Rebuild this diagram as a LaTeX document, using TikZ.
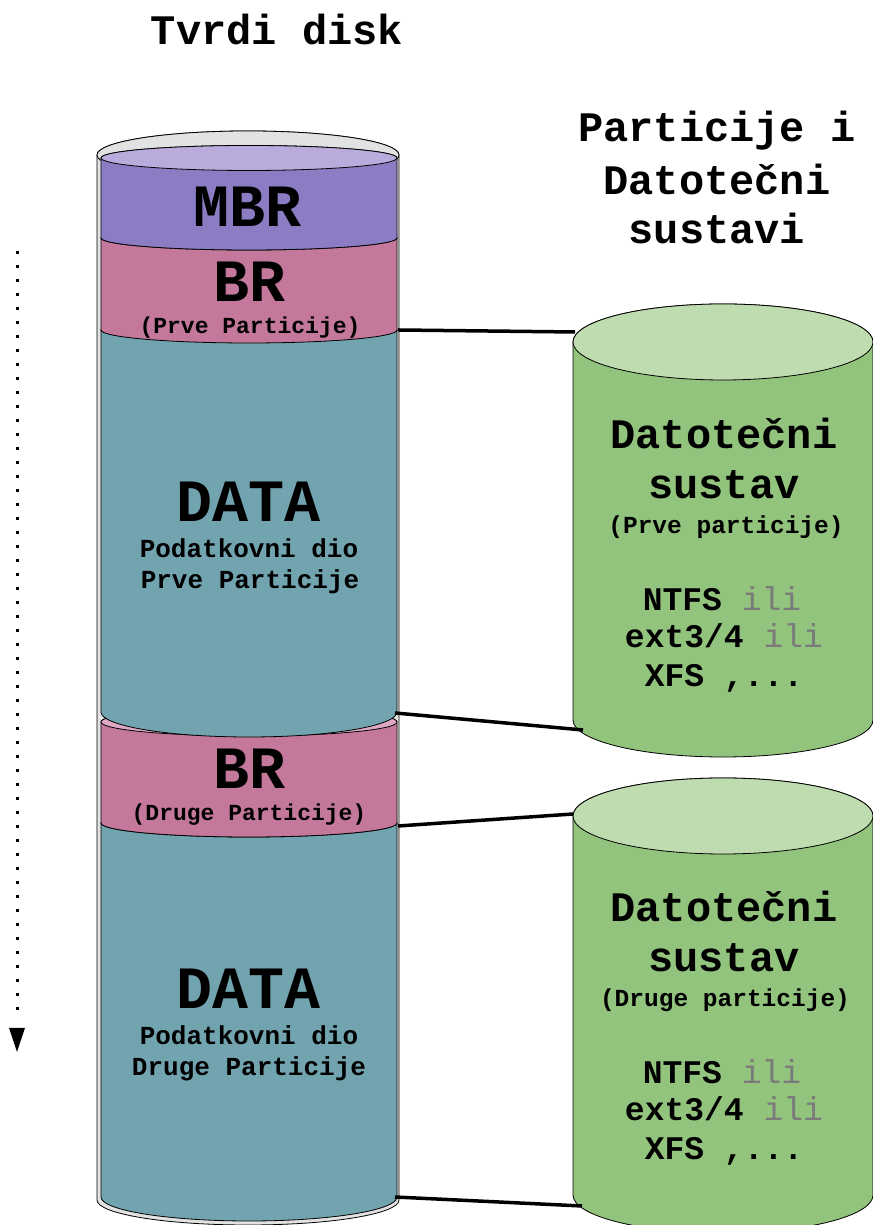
\documentclass[tikz,border=0pt]{standalone}
\usepackage{fontspec}
\newfontfamily\mono{Liberation Mono}
\definecolor{cPurp}{HTML}{8B7CC3}
\definecolor{cPurpL}{HTML}{B9ACDC}
\definecolor{cPink}{HTML}{C4789C}
\definecolor{cPinkL}{HTML}{DFA9C5}
\definecolor{cTeal}{HTML}{72A4B0}
\definecolor{cTealL}{HTML}{A9CED5}
\definecolor{cGreen}{HTML}{93C47D}
\definecolor{cGreenL}{HTML}{BFDCB0}
\definecolor{cDisk}{HTML}{E2E2E2}
\definecolor{cIli}{HTML}{7A7A7A}
% #1 cx, #2 rx, #3 Ytop, #4 ry top, #5 Ybot, #6 ry bot, #7 body colour, #8 top colour
\newcommand\cylband[8]{%
  \draw[fill=#7, line width=0.8pt] ({#1-#2},#3) -- ({#1-#2},#5)
    arc[start angle=180, end angle=360, x radius=#2pt, y radius=#6pt]
    -- ({#1+#2},#3)
    arc[start angle=0, end angle=180, x radius=#2pt, y radius=#4pt] -- cycle;
  \draw[fill=#8, line width=0.8pt] (#1,#3) ellipse[x radius=#2pt, y radius=#4pt];
}
\begin{document}
\begin{tikzpicture}[x=1pt, y=1pt,
  txtA/.style={font=\mono\bfseries\fontsize{42}{48}\selectfont, inner sep=0pt, anchor=base, yshift=-12pt},
  txtHuge/.style={font=\mono\bfseries\fontsize{60}{70}\selectfont, inner sep=0pt, anchor=base, yshift=-17pt},
  txtMid/.style={font=\mono\bfseries\fontsize{33}{40}\selectfont, inner sep=0pt, anchor=base, yshift=-9.5pt},
  txtSub/.style={font=\mono\bfseries\fontsize{26}{30}\selectfont, inner sep=0pt, anchor=base, yshift=-7.5pt},
  txtPar/.style={font=\mono\bfseries\fontsize{24.5}{28}\selectfont, inner sep=0pt, anchor=base, yshift=-7pt},
  txtParS/.style={font=\mono\bfseries\fontsize{23}{27}\selectfont, inner sep=0pt, anchor=base, yshift=-6.5pt},
  link/.style={line width=3.5pt, black},
  ili/.style={cIli, font=\mdseries}
]
\useasboundingbox (0,0) rectangle (872,1225);

% ---- hard disk (left stack) ----
\cylband{248}{151}{1070}{24}{25}{25}{cDisk}{cDisk}
\cylband{249}{148}{402}{14}{28}{24}{cTeal}{cTealL}
\cylband{249}{148}{503}{14}{402}{14}{cPink}{cPinkL}
\cylband{249}{148}{895}{12}{513}{25}{cTeal}{cTealL}
\cylband{249}{148}{987}{12}{895}{13}{cPink}{cPinkL}
\cylband{249}{148}{1067}{12.5}{987}{12}{cPurp}{cPurpL}

% ---- file systems (right cylinders) ----
\cylband{723}{150}{883}{38}{505}{37}{cGreen}{cGreenL}
\cylband{723}{150}{409}{38}{30}{38}{cGreen}{cGreenL}

% ---- connectors ----
\coordinate (p1a) at (398,895); \coordinate (f1a) at (575,893);
\coordinate (p1b) at (395,512); \coordinate (f1b) at (583,495);
\coordinate (p2a) at (398,399); \coordinate (f2a) at (573,411);
\coordinate (p2b) at (395,28);  \coordinate (f2b) at (582,19);
\draw[link] (p1a) -- (f1a);
\draw[link] (p1b) -- (f1b);
\draw[link] (p2a) -- (f2a);
\draw[link] (p2b) -- (f2b);

% ---- dotted direction arrow ----
\coordinate (arrS) at (17,974);
\coordinate (arrM) at (17,205);
\coordinate (arrT) at (17,173);
\draw[line width=3pt, dash pattern=on 3pt off 11pt] (arrS) -- (arrM);
\fill[black] ([xshift=-8pt]arrT |- 0,197) -- ([xshift=8pt]arrT |- 0,197) -- (arrT) -- cycle;

% ---- titles ----
\node[txtA] (title) at (277,1192) {Tvrdi disk};
\node[txtA] (r1) at (717,1095) {Particije i};
\node[txtA] (r2) at (717,1042) {Datotečni};
\node[txtA] (r3) at (717,993) {sustavi};

% ---- left labels ----
\node[txtHuge] (mbr) at (248,1015) {MBR};
\node[txtHuge] (br1) at (250,940) {BR};
\node[txtParS] (br1s) at (250,898) {(Prve Particije)};
\node[txtHuge] (d1) at (249,720) {DATA};
\node[txtSub] (d1a) at (249,675) {Podatkovni dio};
\node[txtSub] (d1b) at (250,644) {Prve Particije};
\node[txtHuge] (br2) at (250,453) {BR};
\node[txtParS] (br2s) at (249,411) {(Druge Particije)};
\node[txtHuge] (d2) at (249,233) {DATA};
\node[txtSub] (d2a) at (249,188) {Podatkovni dio};
\node[txtSub] (d2b) at (249,157) {Druge Particije};

% ---- right labels ----
\node[txtA] (g1a) at (724,788) {Datotečni};
\node[txtA] (g1b) at (724,738) {sustav};
\node[txtPar] (g1c) at (726,698) {(Prve particije)};
\node[txtMid] (g1d) at (722,624) {NTFS {\color{cIli}\mdseries ili}};
\node[txtMid] (g1e) at (724,587) {ext3/4 {\color{cIli}\mdseries ili}};
\node[txtMid] (g1f) at (724,548) {XFS ,...};

\node[txtA] (g2a) at (724,315) {Datotečni};
\node[txtA] (g2b) at (724,265) {sustav};
\node[txtPar] (g2c) at (725,225) {(Druge particije)};
\node[txtMid] (g2d) at (722,151) {NTFS {\color{cIli}\mdseries ili}};
\node[txtMid] (g2e) at (724,114) {ext3/4 {\color{cIli}\mdseries ili}};
\node[txtMid] (g2f) at (724,75) {XFS ,...};
\end{tikzpicture}
\end{document}
